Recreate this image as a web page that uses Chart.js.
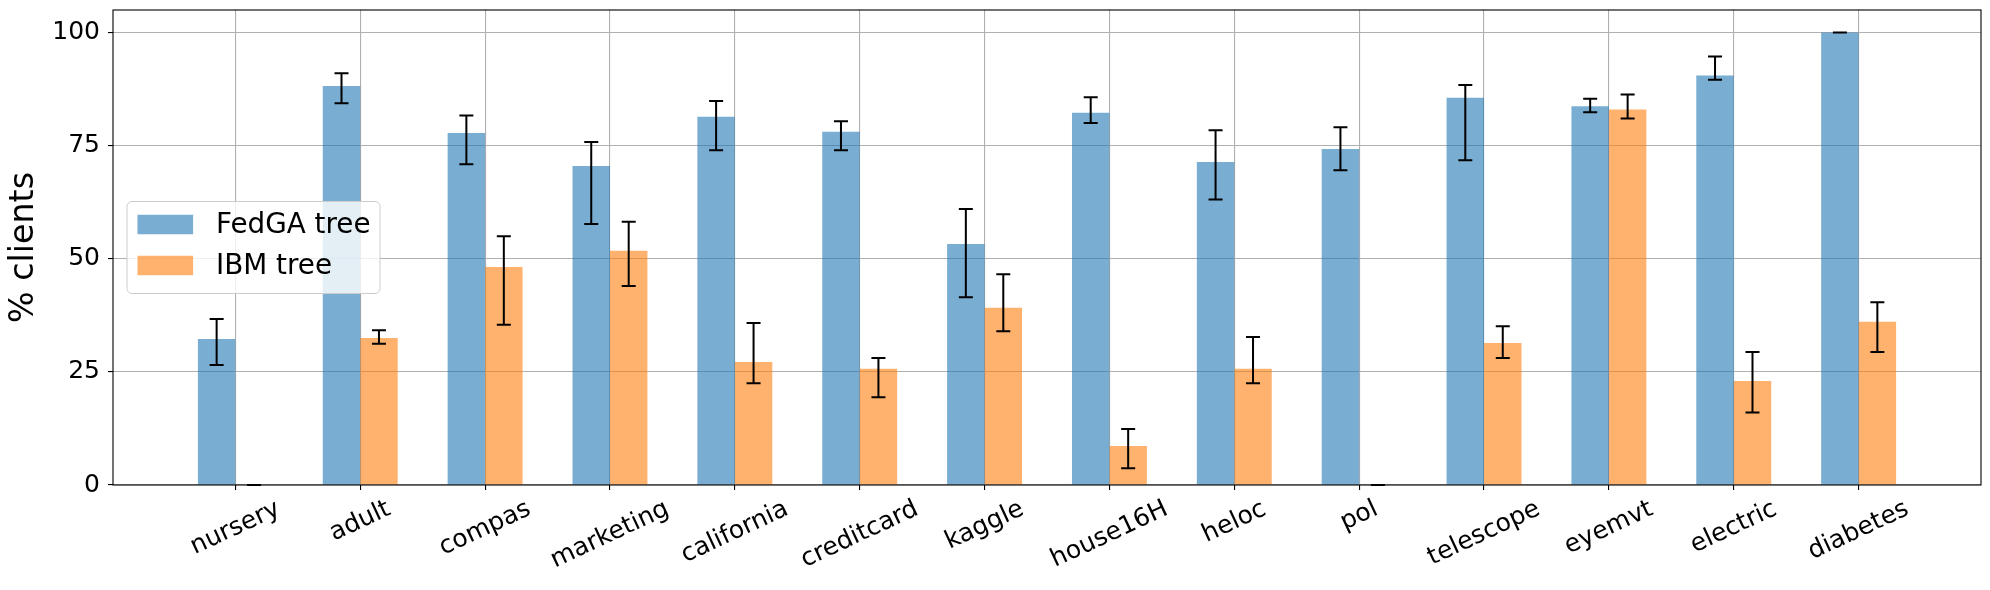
<!DOCTYPE html>
<html>
<head>
<meta charset="utf-8">
<script src="https://cdn.jsdelivr.net/npm/chart.js@4.4.1/dist/chart.umd.min.js"></script>
<style>
  html, body { margin: 0; padding: 0; background: #fff; }
  #wrap { width: 1990px; height: 590px; }
</style>
</head>
<body>
<div id="wrap"><canvas id="chart" width="1990" height="590"></canvas></div>
<script>
// datasets
const labels = ['nursery', 'adult', 'compas', 'marketing', 'california', 'creditcard', 'kaggle',
                'house16H', 'heloc', 'pol', 'telescope', 'eyemvt', 'electric', 'diabetes'];

const fedga     = [32.3, 88.2, 77.8, 70.5, 81.4, 78.1, 53.3, 82.3, 71.4, 74.3, 85.6, 83.7, 90.5, 100];
const fedgaLow  = [26.5, 84.4, 70.9, 57.7, 74.0, 74.0, 41.5, 80.0, 63.1, 69.6, 71.8, 82.4, 89.6, 100];
const fedgaHigh = [36.7, 91.0, 81.7, 75.8, 84.9, 80.4, 61.0, 85.7, 78.4, 79.1, 88.4, 85.4, 94.7, 100];

const ibm     = [0, 32.5, 48.2, 51.8, 27.2, 25.7, 39.2, 8.6, 25.7, 0, 31.4, 83.0, 23.0, 36.1];
const ibmLow  = [0, 31.2, 35.4, 44.0, 22.5, 19.4, 34.0, 3.7, 22.5, 0, 28.1, 81.0, 16.0, 29.4];
const ibmHigh = [0, 34.2, 55.0, 58.2, 35.8, 28.1, 46.6, 12.4, 32.7, 0, 35.1, 86.3, 29.4, 40.4];

const yTicks = [0, 25, 50, 75, 100];
const seriesNames = ['FedGA tree', 'IBM tree'];

const BLUE = 'rgba(31,119,180,0.6)';
const ORANGE = 'rgba(255,127,14,0.6)';
const FONT = '"DejaVu Sans", "Liberation Sans", sans-serif';

const extras = {
    id: 'extras',
    afterDraw(chart) {
        const ctx = chart.ctx;
        const area = chart.chartArea;
        const xs = chart.scales.x;
        const ys = chart.scales.y;

        // error bars
        ctx.save();
        ctx.strokeStyle = '#000';
        ctx.lineWidth = 2;
        [[0, fedgaLow, fedgaHigh], [1, ibmLow, ibmHigh]].forEach(([di, lo, hi]) => {
            chart.getDatasetMeta(di).data.forEach((bar, i) => {
                const yl = ys.getPixelForValue(lo[i]);
                const yh = ys.getPixelForValue(hi[i]);
                ctx.beginPath();
                ctx.moveTo(bar.x, yl); ctx.lineTo(bar.x, yh);
                ctx.moveTo(bar.x - 7, yl); ctx.lineTo(bar.x + 7, yl);
                ctx.moveTo(bar.x - 7, yh); ctx.lineTo(bar.x + 7, yh);
                ctx.stroke();
            });
        });
        ctx.restore();

        // frame (all four spines)
        ctx.save();
        ctx.strokeStyle = '#000';
        ctx.lineWidth = 1.1;
        ctx.strokeRect(area.left, area.top, area.right - area.left, area.bottom - area.top);
        ctx.restore();

        // rotated category labels, centred on the tick like matplotlib
        ctx.save();
        ctx.font = '25px ' + FONT;
        ctx.fillStyle = '#000';
        ctx.textAlign = 'center';
        ctx.textBaseline = 'middle';
        const th = 25 * Math.PI / 180;
        labels.forEach((lab, i) => {
            const w = ctx.measureText(lab).width;
            const h = 29;
            const bh = w * Math.sin(th) + h * Math.cos(th);
            const cx = xs.getPixelForValue(i);
            const cy = area.bottom + 9.8 + bh / 2;
            ctx.save();
            ctx.translate(cx, cy);
            ctx.rotate(-th);
            ctx.fillText(lab, 0, 0);
            ctx.restore();
        });
        ctx.restore();

        // legend, centre left inside the axes
        const lw = 253, lh = 92;
        const lx = area.left + 14;
        const ly = (area.top + area.bottom) / 2 - lh / 2;
        const r = 5;
        ctx.save();
        ctx.beginPath();
        ctx.moveTo(lx + r, ly);
        ctx.lineTo(lx + lw - r, ly);
        ctx.arcTo(lx + lw, ly, lx + lw, ly + r, r);
        ctx.lineTo(lx + lw, ly + lh - r);
        ctx.arcTo(lx + lw, ly + lh, lx + lw - r, ly + lh, r);
        ctx.lineTo(lx + r, ly + lh);
        ctx.arcTo(lx, ly + lh, lx, ly + lh - r, r);
        ctx.lineTo(lx, ly + r);
        ctx.arcTo(lx, ly, lx + r, ly, r);
        ctx.closePath();
        ctx.fillStyle = 'rgba(255,255,255,0.8)';
        ctx.fill();
        ctx.strokeStyle = '#cccccc';
        ctx.lineWidth = 1;
        ctx.stroke();

        ctx.font = '27.8px ' + FONT;
        ctx.textAlign = 'left';
        ctx.textBaseline = 'middle';
        [BLUE, ORANGE].forEach((col, k) => {
            const rowY = ly + 23 + k * 41;
            ctx.fillStyle = col;
            ctx.fillRect(lx + 10.5, rowY - 9.75, 55.6, 19.5);
            ctx.fillStyle = '#000';
            ctx.fillText(seriesNames[k], lx + 89, rowY + 1);
        });
        ctx.restore();
    }
};

new Chart(document.getElementById('chart'), {
    type: 'bar',
    data: {
        datasets: [
            { label: seriesNames[0], data: fedga.map((v, i) => ({ x: i, y: v })), backgroundColor: BLUE, borderWidth: 0 },
            { label: seriesNames[1], data: ibm.map((v, i) => ({ x: i, y: v })), backgroundColor: ORANGE, borderWidth: 0 }
        ]
    },
    options: {
        responsive: false,
        animation: false,
        devicePixelRatio: 1,
        categoryPercentage: 0.6,
        barPercentage: 1.0,
        layout: { padding: { left: 0, right: 9, top: 10, bottom: 0 } },
        plugins: { legend: { display: false }, tooltip: { enabled: false } },
        scales: {
            x: {
                type: 'linear',
                min: -0.98,
                max: 13.98,
                offset: false,
                z: 1,
                afterBuildTicks: s => { s.ticks = labels.map((_, i) => ({ value: i })); },
                afterFit: s => { s.height = 105; s.paddingLeft = 0; s.paddingRight = 0; },
                ticks: { display: false },
                grid: { offset: false, color: '#b0b0b0', lineWidth: 1.1, tickLength: 5, tickColor: '#000', tickWidth: 1.1 },
                border: { display: false }
            },
            y: {
                min: 0,
                max: 105,
                z: 1,
                afterBuildTicks: s => { s.ticks = yTicks.map(v => ({ value: v })); },
                afterFit: s => { s.width = 113; s.paddingTop = 0; s.paddingBottom = 0; },
                ticks: { color: '#000', font: { family: FONT, size: 25 }, padding: 8 },
                grid: { color: '#b0b0b0', lineWidth: 1.1, tickLength: 5, tickColor: '#000', tickWidth: 1.1 },
                border: { display: false },
                title: { display: true, text: '% clients', color: '#000', font: { family: FONT, size: 33.3 }, padding: { top: 4, bottom: 0 } }
            }
        }
    },
    plugins: [extras]
});
</script>
</body>
</html>
